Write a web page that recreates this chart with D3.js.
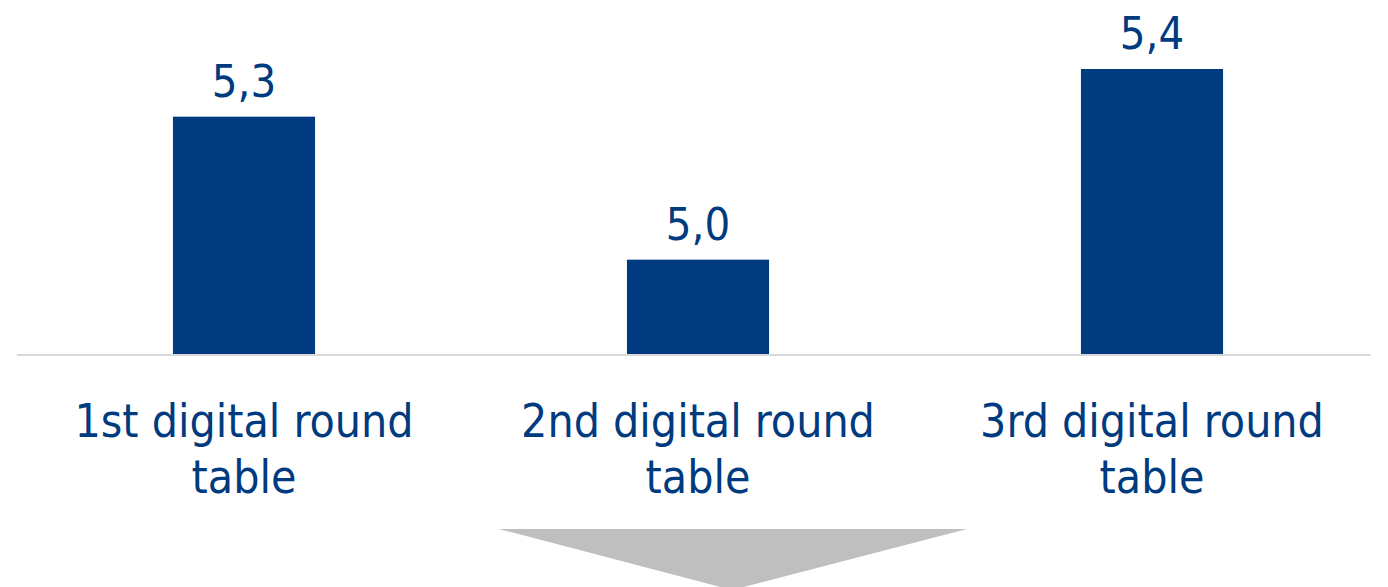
<!DOCTYPE html>
<html>
<head>
<meta charset="utf-8">
<script src="https://cdn.jsdelivr.net/npm/d3@7"></script>
<style>
  html, body { margin: 0; padding: 0; background: #fff; }
  text { font-family: "DejaVu Sans Condensed", "DejaVu Sans", sans-serif; fill: #003b7f; }
</style>
</head>
<body>
<div class="container"></div>
<script>
const categories = [['1st digital round', 'table'], ['2nd digital round', 'table'], ['3rd digital round', 'table']];
const values = [5.3, 5.0, 5.4];
const valueLabels = ['5,3', '5,0', '5,4'];

const w = 1388;
const h = 587;
const baseY = 355;
const blue = '#003b7f';

const svg = d3.select('.container').append('svg')
  .attr('width', w)
  .attr('height', h);

const x = d3.scaleBand()
  .domain(d3.range(values.length))
  .range([17, 1379])
  .paddingInner(0.687)
  .paddingOuter(0.3435);

const y = d3.scaleLinear()
  .domain([4.8, 5.4])
  .range([baseY, 69]);

// baseline
svg.append('line')
  .attr('x1', 17).attr('x2', 1371)
  .attr('y1', baseY).attr('y2', baseY)
  .style('stroke', '#d9d9d9')
  .style('stroke-width', 2);

svg.selectAll('.bar')
  .data(values)
  .enter()
  .append('rect')
    .classed('bar', true)
    .attr('x', (d, i) => x(i))
    .attr('y', d => y(d))
    .attr('width', x.bandwidth())
    .attr('height', d => baseY - 1 - y(d))
    .style('fill', blue);

svg.selectAll('.val')
  .data(values)
  .enter()
  .append('text')
    .classed('val', true)
    .attr('x', (d, i) => x(i) + x.bandwidth() / 2)
    .attr('y', d => y(d) - 20)
    .attr('text-anchor', 'middle')
    .style('font-size', '45px')
    .text((d, i) => valueLabels[i]);

const cat = svg.selectAll('.cat')
  .data(categories)
  .enter()
  .append('text')
    .classed('cat', true)
    .attr('text-anchor', 'middle')
    .style('font-size', '46px');

cat.selectAll('tspan')
  .data((d, i) => d.map(t => ({t, i})))
  .enter()
  .append('tspan')
    .attr('x', d => x(d.i) + x.bandwidth() / 2)
    .attr('y', (d, j) => 437 + j * 56)
    .text(d => d.t);

// arrow below the chart
svg.append('path')
  .attr('d', d3.line()([[499, 529], [967, 529], [732, 590]]))
  .style('fill', '#bfbfbf');
</script>
</body>
</html>
